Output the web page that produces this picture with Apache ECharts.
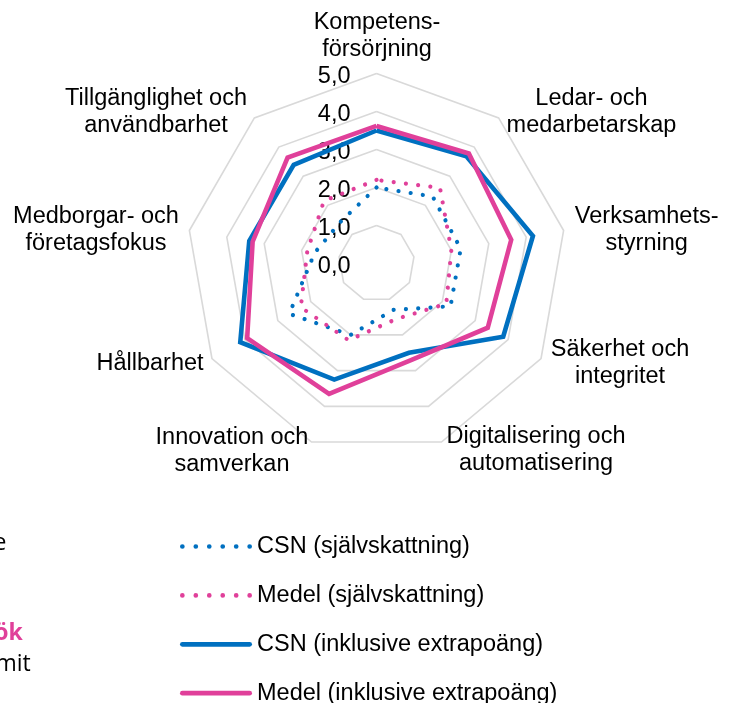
<!DOCTYPE html>
<html><head><meta charset="utf-8">
<script src="https://cdn.jsdelivr.net/npm/echarts@6/dist/echarts.min.js"></script>
<style>html,body{margin:0;padding:0;background:#fff}#c{width:734px;height:703px}</style>
</head><body><div id="c"></div>
<script>
// ---- data (clockwise from top, as in the reference) ----
const categories = [
  'Kompetens-\nförsörjning',
  'Ledar- och\nmedarbetarskap',
  'Verksamhets-\nstyrning',
  'Säkerhet och\nintegritet',
  'Digitalisering och\nautomatisering',
  'Innovation och\nsamverkan',
  'Hållbarhet',
  'Medborgar- och\nföretagsfokus',
  'Tillgänglighet och\nanvändbarhet'
];
const tickLabels = ['0,0', '1,0', '2,0', '3,0', '4,0', '5,0'];
const seriesNames = ['CSN (självskattning)', 'Medel (självskattning)', 'CSN (inklusive extrapoäng)', 'Medel (inklusive extrapoäng)'];
const csnSelf  = [2.0, 2.3, 2.25, 2.25, 1.3, 2.0, 2.65, 1.65, 1.45];
const medelSelf = [2.2, 2.6, 2.0, 2.12, 1.55, 2.15, 2.3, 1.85, 2.15];
const csnExtra = [3.5, 3.68, 4.18, 3.85, 2.5, 3.25, 4.14, 3.4, 3.39];
const medelExtra = [3.62, 3.78, 3.6, 3.38, 2.7, 3.65, 3.93, 3.31, 3.64];
const sideTexts = ['e', 'ök', 'mit'];

// ---- layout / style ----
const BLUE = '#0070C0', PINK = '#E0409A';
const FONT = '"Liberation Sans", Arial, sans-serif';
const CX = 376.5, CY = 263.5, R = 190;

// ECharts places indicators counter-clockwise; reorder to get clockwise layout
const order = categories.map((_, i) => (i === 0 ? 0 : categories.length - i));
const reorder = arr => order.map(i => arr[i]);

const indicator = order.map((i, k) => {
  const ind = { name: categories[i], min: 0, max: 5 };
  if (k === 0) {
    ind.axisLabel = {
      show: true, margin: 26, align: 'right',
      formatter: v => '{t|' + tickLabels[Math.round(v)] + '}',
      rich: { t: { fontSize: 23.5, fontFamily: FONT, color: '#000', padding: [7, 0, 0, 0] } }
    };
  }
  return ind;
});

// label anchors (centre of the text block) per category, clockwise
const nameAnchors = [
  [377, 36], [591.5, 111.7], [646.7, 230], [620, 363.3], [536, 450.3],
  [232, 451.5], [150, 363.3], [96, 230], [156, 111.7]
];

function dotsPath(n, r, step) {
  let p = 'path://';
  for (let k = 0; k < n; k++) {
    const cx = r + k * step;
    p += `M${cx - r},${r}a${r},${r} 0 1,0 ${2 * r},0a${r},${r} 0 1,0 ${-2 * r},0Z`;
  }
  return p;
}
const dotIcon = dotsPath(6, 2.35, 13.46);
const lineIcon = 'path://M2.35,0H69.65A2.35,2.35 0 0 1 69.65,4.7H2.35A2.35,2.35 0 0 1 2.35,0Z';

const seriesValues = [csnSelf, medelSelf, csnExtra, medelExtra];
const seriesColors = [BLUE, PINK, BLUE, PINK];
const seriesDotted = [true, true, false, false];

const series = seriesValues.map((vals, s) => ({
  type: 'radar',
  name: seriesNames[s],
  symbol: 'none',
  silent: true,
  z: 2 + s,
  itemStyle: { color: seriesColors[s] },
  lineStyle: seriesDotted[s]
    ? { color: seriesColors[s], width: 4.2, type: [0.01, 12.3], cap: 'round' }
    : { color: seriesColors[s], width: 4.6, type: 'solid', join: 'miter' },
  data: [{ name: seriesNames[s], value: reorder(vals) }]
}));

const graphics = categories.map((c, i) => ({
  type: 'text', x: nameAnchors[i][0], y: nameAnchors[i][1], z: 10,
  style: { text: c, align: 'center', verticalAlign: 'middle', lineHeight: 27,
    font: `23.5px ${FONT}`, fill: '#000' }
}));
graphics.push(
  { type: 'text', x: 6.5, y: 543.5, style: { text: sideTexts[0], align: 'right', verticalAlign: 'middle', font: '23px "Open Sans", sans-serif', fill: '#000' } },
  { type: 'text', x: 22.7, y: 633.5, style: { text: sideTexts[1], align: 'right', verticalAlign: 'middle', font: 'bold 23px "Open Sans", sans-serif', fill: PINK } },
  { type: 'text', x: 30.7, y: 664.5, style: { text: sideTexts[2], align: 'right', verticalAlign: 'middle', font: '23px "Open Sans", sans-serif', fill: '#000' } }
);

const chart = echarts.init(document.getElementById('c'), null, { renderer: 'canvas' });
chart.setOption({
  animation: false,
  backgroundColor: '#fff',
  radar: {
    center: [CX, CY], radius: R, startAngle: 90, splitNumber: 5, shape: 'polygon',
    indicator: indicator,
    axisName: { show: false },
    axisLine: { show: false },
    axisTick: { show: false },
    splitArea: { show: false },
    splitLine: { lineStyle: { color: '#D9D9D9', width: 1.6 } }
  },
  legend: {
    orient: 'vertical', left: 180, top: 534.5, height: 260, padding: 0,
    itemWidth: 72, itemHeight: 4.7, itemGap: 24.9,
    selectedMode: false,
    textStyle: { fontSize: 23.5, fontFamily: FONT, color: '#000' },
    itemStyle: { borderWidth: 0 },
    data: seriesNames.map((n, s) => ({
      name: n, icon: seriesDotted[s] ? dotIcon : lineIcon,
      itemStyle: { color: seriesColors[s], borderWidth: 0 }
    }))
  },
  graphic: graphics,
  series: series
});
</script></body></html>
